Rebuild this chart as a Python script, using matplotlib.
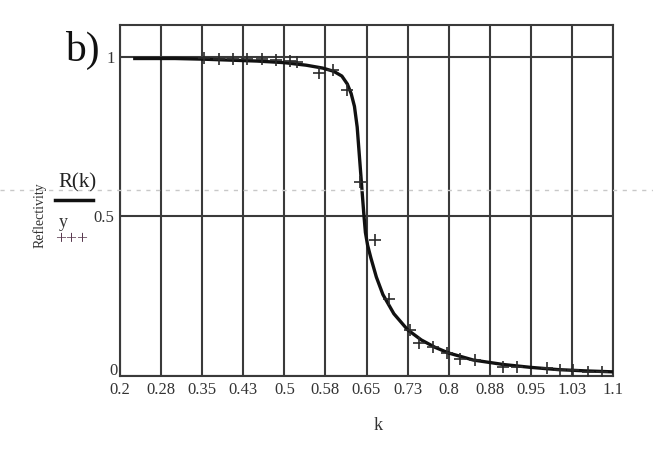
import matplotlib.pyplot as plt
import matplotlib.transforms as mtransforms
from matplotlib.lines import Line2D

# fitted curve R(k)
k_curve = [0.227, 0.30, 0.35, 0.40, 0.45, 0.50, 0.54, 0.57, 0.59, 0.605,
           0.615, 0.622, 0.628, 0.633, 0.637, 0.641, 0.645, 0.648, 0.652,
           0.658, 0.668, 0.68, 0.70, 0.725, 0.75, 0.775, 0.80, 0.845, 0.90,
           0.95, 1.00, 1.05, 1.10]
R_curve = [0.995, 0.995, 0.993, 0.99, 0.987, 0.982, 0.974, 0.965, 0.955, 0.94,
           0.915, 0.885, 0.845, 0.78, 0.69, 0.60, 0.51, 0.45, 0.41,
           0.37, 0.31, 0.255, 0.195, 0.145, 0.113, 0.09, 0.072, 0.05, 0.036,
           0.027, 0.02, 0.016, 0.013]

# measured points y
k_pts = [0.353, 0.381, 0.406, 0.432, 0.459, 0.485, 0.510, 0.524, 0.563, 0.589,
         0.614, 0.638, 0.665, 0.691, 0.729, 0.746, 0.771, 0.797, 0.820, 0.848,
         0.899, 0.924, 0.979, 1.003, 1.027, 1.054, 1.080]
y_pts = [0.996, 0.995, 0.994, 0.993, 0.992, 0.990, 0.988, 0.985, 0.95, 0.96,
         0.897, 0.608, 0.426, 0.241, 0.144, 0.103, 0.090, 0.072, 0.053, 0.050,
         0.028, 0.028, 0.025, 0.019, 0.018, 0.014, 0.013]

x_ticks = [0.2, 0.275, 0.35, 0.425, 0.5, 0.575, 0.65, 0.725, 0.8, 0.875,
           0.95, 1.025, 1.1]
x_labels = ["0.2", "0.28", "0.35", "0.43", "0.5", "0.58", "0.65", "0.73",
            "0.8", "0.88", "0.95", "1.03", "1.1"]
y_ticks = [0, 0.5, 1]
y_labels = ["0", "0.5", "1"]

plt.rcParams["font.family"] = ["Liberation Serif", "DejaVu Serif"]
grid_c = "#3a3a3a"

fig = plt.figure(figsize=(6.53, 4.5), dpi=100)
ax = fig.add_axes([120 / 653, 74 / 450, 493 / 653, 351 / 450])

for xv in x_ticks:
    ax.axvline(xv, color=grid_c, lw=1.5, zorder=1)
for yv in y_ticks:
    ax.axhline(yv, color=grid_c, lw=1.5, zorder=1)

ax.plot(k_curve, R_curve, color="#111111", lw=2.4, zorder=3)
ax.plot(k_pts, y_pts, ls="none", marker="+", ms=9, mew=1.2,
        color="#2a2a2a", zorder=4)

ax.set_xlim(0.2, 1.1)
ax.set_ylim(0, 1.1)
ax.set_xticks(x_ticks)
ax.set_xticklabels(x_labels)
ax.set_yticks(y_ticks)
ax.set_yticklabels(y_labels)
ax.tick_params(length=0, labelsize=12, colors="#333333", pad=4)
for s in ax.spines.values():
    s.set_color(grid_c)
    s.set_linewidth(1.5)

# the "0" sits a little above the x labels
lab0 = ax.get_yticklabels()[0]
lab0.set_transform(lab0.get_transform() +
                   mtransforms.ScaledTranslation(2 / 72, 5 / 72, fig.dpi_scale_trans))

fig.text(378 / 653, 1 - 425 / 450, "k", fontsize=13, ha="center",
         va="center", color="#333333")
fig.text(40 / 653, 1 - 215 / 450, "Reflectivity", fontsize=10,
         rotation=90, ha="center", va="center", color="#333333")
fig.text(77 / 653, 1 - 183 / 450, "R(k)", fontsize=15, ha="center",
         va="center", color="#222222")
fig.add_artist(Line2D([55 / 653, 93 / 653], [1 - 200 / 450, 1 - 200 / 450],
                      color="#111111", lw=2.5))
fig.text(63 / 653, 1 - 222 / 450, "y", fontsize=13, ha="center",
         va="center", color="#333333")
fig.text(72 / 653, 1 - 240 / 450, "+++", fontsize=14, ha="center",
         va="center", color="#5a3a50")
fig.text(82 / 653, 1 - 50 / 450, "b)", fontsize=30, ha="center",
         va="center", color="#111111")

# faint dashed line across the screenshot
fig.add_artist(Line2D([0, 1], [1 - 190 / 450, 1 - 190 / 450],
                      color="#c8c8c8", lw=1, ls=(0, (3, 4))))

fig.savefig("out.png", dpi=100)
